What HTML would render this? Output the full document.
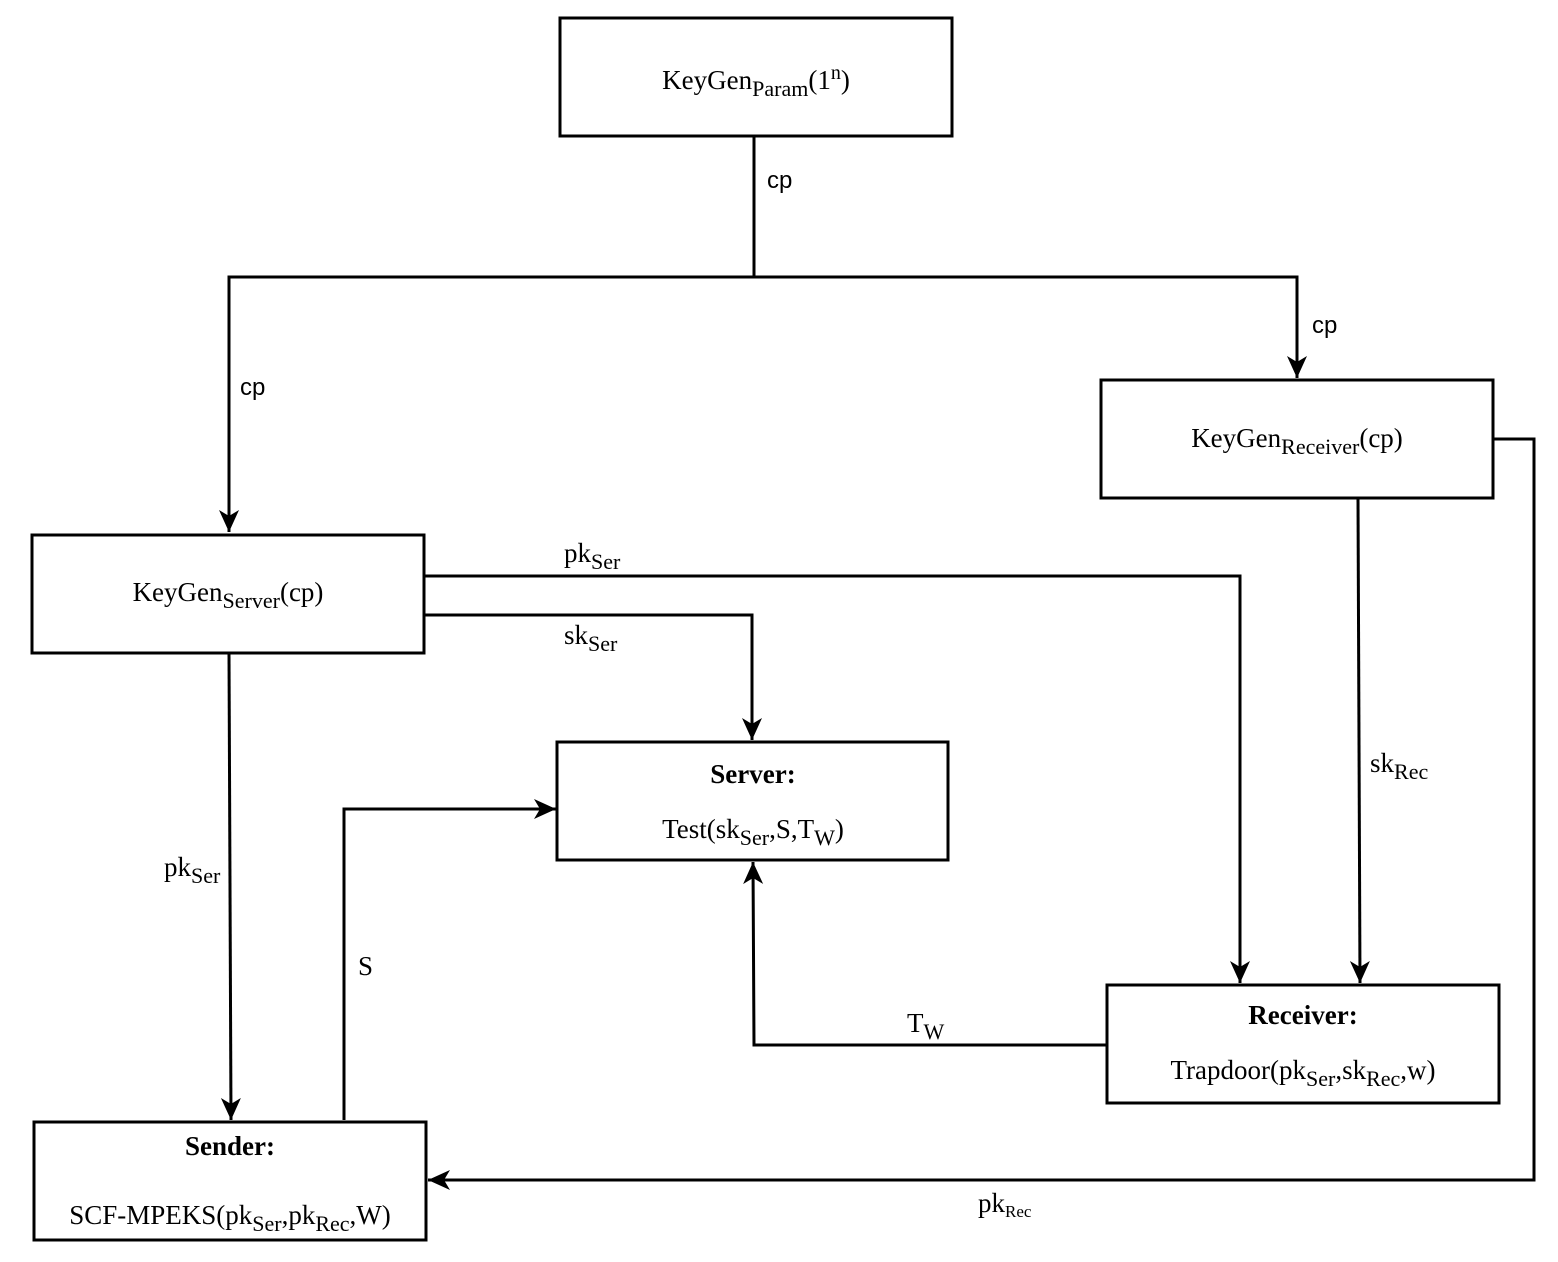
<!DOCTYPE html>
<html><head><style>
html,body{margin:0;padding:0;background:#fff;}
svg{display:block;}
.t{font-family:"Liberation Serif",serif;font-size:27px;fill:#000;}
.b{font-weight:bold;}
.s{font-family:"Liberation Sans",sans-serif;font-size:24px;fill:#000;}
</style></head><body>
<svg width="1558" height="1262" viewBox="0 0 1558 1262" xmlns="http://www.w3.org/2000/svg">
<defs>
<marker id="a" markerWidth="24" markerHeight="24" refX="22" refY="10" orient="auto" markerUnits="userSpaceOnUse">
<path d="M0,0 L22,10 L0,20 L6,10 Z" fill="#000"/>
</marker>
</defs>
<g fill="none" stroke="#000" stroke-width="3">
<rect x="560" y="18" width="392" height="118"/>
<rect x="1101" y="380" width="392" height="118"/>
<rect x="32" y="535" width="392" height="118"/>
<rect x="557" y="742" width="391" height="118"/>
<rect x="1107" y="985" width="392" height="118"/>
<rect x="34" y="1122" width="392" height="118"/>
<polyline points="754,136 754,277"/>
<polyline points="754,277 229,277 229,532" marker-end="url(#a)"/>
<polyline points="754,277 1297,277 1297,378" marker-end="url(#a)"/>
<polyline points="424,576 1240,576 1240,983" marker-end="url(#a)"/>
<polyline points="424,615 752,615 752,740" marker-end="url(#a)"/>
<polyline points="229,653 231,1120" marker-end="url(#a)"/>
<polyline points="344,1120 344,809 556,809" marker-end="url(#a)"/>
<polyline points="1107,1045 754,1045 753,862" marker-end="url(#a)"/>
<polyline points="1358,498 1360,983" marker-end="url(#a)"/>
<polyline points="1493,439 1534,439 1534,1180 428,1180" marker-end="url(#a)"/>
</g>
<text class="t" x="756" y="89" text-anchor="middle">KeyGen<tspan font-size="22" dy="7">Param</tspan><tspan dy="-7">(1</tspan><tspan font-size="20" dy="-10">n</tspan><tspan dy="10">)</tspan></text>
<text class="t" x="1297" y="447" text-anchor="middle">KeyGen<tspan font-size="22" dy="7">Receiver</tspan><tspan dy="-7">(cp)</tspan></text>
<text class="t" x="228" y="601" text-anchor="middle">KeyGen<tspan font-size="22" dy="7">Server</tspan><tspan dy="-7">(cp)</tspan></text>
<text class="t b" x="753" y="783" text-anchor="middle">Server:</text>
<text class="t" x="753" y="838" text-anchor="middle">Test(sk<tspan font-size="22" dy="7">Ser</tspan><tspan dy="-7">,S,T</tspan><tspan font-size="22" dy="7">W</tspan><tspan dy="-7">)</tspan></text>
<text class="t b" x="1303" y="1024" text-anchor="middle">Receiver:</text>
<text class="t" x="1303" y="1079" text-anchor="middle">Trapdoor(pk<tspan font-size="22" dy="7">Ser</tspan><tspan dy="-7">,sk</tspan><tspan font-size="22" dy="7">Rec</tspan><tspan dy="-7">,w)</tspan></text>
<text class="t b" x="230" y="1155" text-anchor="middle">Sender:</text>
<text class="t" x="230" y="1224" text-anchor="middle">SCF-MPEKS(pk<tspan font-size="22" dy="7">Ser</tspan><tspan dy="-7">,pk</tspan><tspan font-size="22" dy="7">Rec</tspan><tspan dy="-7">,W)</tspan></text>
<text class="s" x="767" y="188">cp</text>
<text class="s" x="240" y="395">cp</text>
<text class="s" x="1312" y="333">cp</text>
<text class="t" x="564" y="562">pk<tspan font-size="22" dy="7">Ser</tspan></text>
<text class="t" x="564" y="644">sk<tspan font-size="22" dy="7">Ser</tspan></text>
<text class="t" x="164" y="876">pk<tspan font-size="22" dy="7">Ser</tspan></text>
<text class="t" x="358" y="975">S</text>
<text class="t" x="907" y="1032">T<tspan font-size="22" dy="7">W</tspan></text>
<text class="t" x="1370" y="772">sk<tspan font-size="22" dy="7">Rec</tspan></text>
<text class="t" x="978" y="1212" font-size="23">pk<tspan font-size="17" dy="5">Rec</tspan></text>
</svg>
</body></html>
